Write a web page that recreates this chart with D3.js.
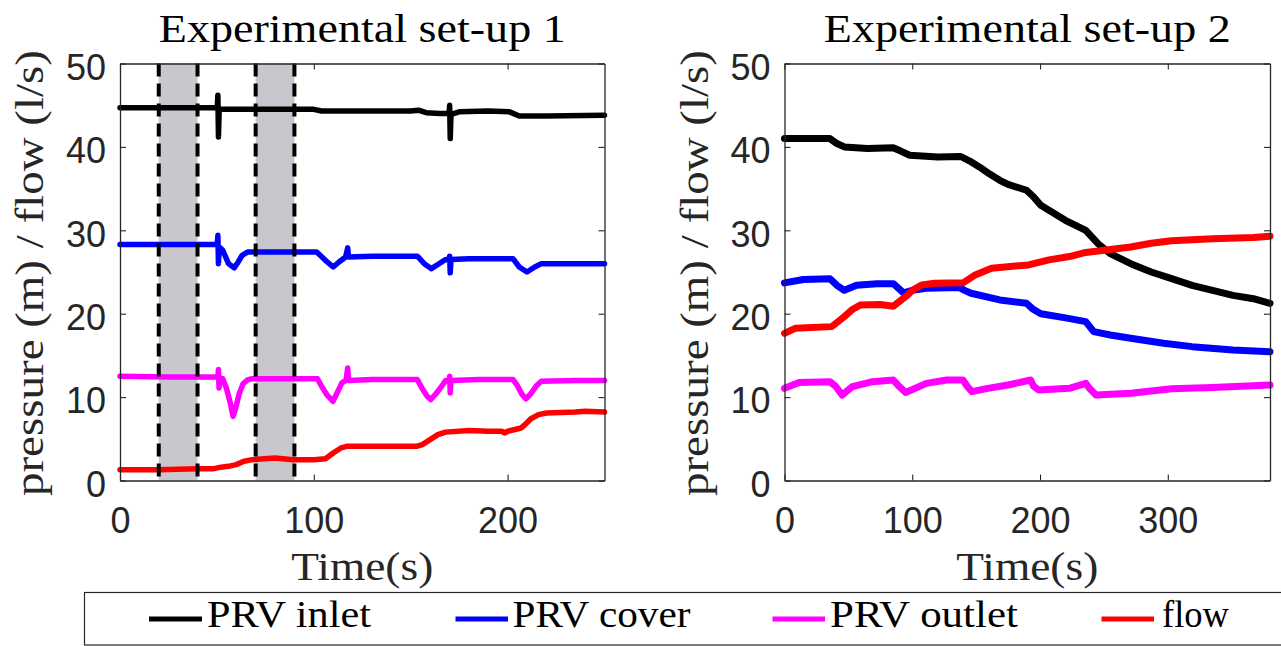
<!DOCTYPE html>
<html><head><meta charset="utf-8">
<script src="https://cdn.jsdelivr.net/npm/d3@7"></script>
<style>body{margin:0;background:#fff}svg{display:block}</style>
</head><body>
<svg id="c" width="1281" height="646"></svg>
<script>
// ---------- data ----------
const titles = ["Experimental set-up 1", "Experimental set-up 2"];
const xLabel = "Time(s)";
const yLabel = "pressure (m) / flow (l/s)";
const seriesNames = ["PRV inlet", "PRV cover", "PRV outlet", "flow"];
const seriesColors = ["#000000", "#0000ff", "#ff00ff", "#ff0000"];
const xDomain1 = [0, 250];
const xDomain2 = [0, 380];
const yDomain = [0, 50];
const xTicks1 = [0, 100, 200];
const xTicks2 = [0, 100, 200, 300];
const yTicks = [0, 10, 20, 30, 40, 50];
const bands1 = [[20, 40], [70, 90]];

const s1Inlet = [[0,44.7],[20,44.7],[40,44.7],[50.2,44.7],[50.5,46.2],[50.8,41.2],[51.2,44.6],[52,44.5],[75,44.5],[100,44.5],[104,44.3],[130,44.3],[150,44.3],[154,44.4],[158,44.1],[165,44.0],[169.8,44.0],[170.1,45.0],[170.4,41.0],[170.8,43.9],[175,44.2],[190,44.3],[201,44.2],[206,43.7],[220,43.7],[250,43.8]];
const s1Cover = [[0,28.3],[25,28.3],[50.2,28.3],[50.5,29.4],[50.8,26.0],[51.2,28.0],[53,27.6],[56,26.0],[58.9,25.5],[61,26.2],[63,27.0],[66,27.4],[80,27.4],[101.5,27.4],[106,26.4],[110,25.6],[113,26.2],[116.4,26.8],[117.5,27.9],[117.9,26.8],[130,26.9],[153.4,26.9],[157,26.0],[160.7,25.4],[164,25.9],[168,26.5],[169.8,26.4],[170.1,26.9],[170.4,24.9],[170.8,26.5],[180,26.6],[202.8,26.6],[206,25.6],[210,25.0],[214,25.6],[217.4,26.0],[235,26.0],[250,26.0]];
const s1Outlet = [[0,12.5],[25,12.4],[50.5,12.4],[50.8,13.3],[51.1,11.1],[51.5,12.3],[53,12.2],[55,11.0],[57,9.2],[58.3,7.7],[59.6,8.6],[61.5,10.4],[63.5,11.6],[66,12.1],[68.3,12.2],[85,12.2],[101.9,12.2],[104,11.3],[107,10.2],[109.9,9.5],[112,10.5],[114.5,11.7],[116.6,12.0],[117.5,13.5],[117.9,12.0],[130,12.1],[153.4,12.1],[156,11.0],[158.5,10.1],[160.3,9.7],[163,10.4],[166,11.3],[168.1,12.0],[169.9,12.0],[170.1,12.5],[170.4,10.5],[170.8,12.0],[185,12.1],[202.8,12.1],[205,11.4],[207.5,10.3],[209.5,9.8],[212,10.4],[215,11.4],[217.4,11.9],[235,12.0],[250,12.0]];
const s1Flow = [[0,1.3],[20,1.3],[40,1.4],[48,1.4],[52,1.6],[56,1.7],[59.9,1.9],[64,2.3],[68.3,2.5],[80,2.7],[89.3,2.5],[100,2.5],[106,2.6],[110,3.3],[114,3.9],[117,4.1],[135,4.1],[153,4.1],[156,4.3],[160,4.9],[164,5.5],[168,5.8],[180,6.0],[190,5.9],[197,5.9],[198.6,5.7],[200,5.9],[207,6.3],[209,6.7],[212,7.4],[216,7.9],[220,8.1],[235,8.2],[240,8.3],[250,8.2]];

const s2Inlet = [[0,41.0],[20,41.0],[35.6,41.0],[41,40.4],[46.8,40.0],[65,39.8],[85,39.9],[91,39.5],[98,39.0],[120,38.8],[138,38.85],[145,38.3],[152.5,37.6],[160,36.8],[168.5,36.0],[175,35.5],[189.4,34.8],[195,34.0],[200.6,33.0],[207,32.4],[219.8,31.2],[235.8,30.0],[245.4,28.4],[255,27.2],[271,26.0],[287,25.0],[303,24.2],[319,23.4],[335,22.8],[351,22.2],[367,21.8],[380,21.25]];
const s2Cover = [[0,23.7],[14.7,24.1],[35.6,24.2],[41,23.4],[46.8,22.8],[56.4,23.4],[72.4,23.6],[85.2,23.6],[93.2,22.5],[100,22.8],[111,23.05],[136.5,23.15],[141,22.8],[146,22.45],[168.5,21.65],[189.4,21.25],[194,20.6],[200.6,20.0],[220,19.5],[235.8,19.05],[242,17.85],[255,17.45],[271,17.05],[296.7,16.45],[319,16.05],[351,15.65],[380,15.45]];
const s2Outlet = [[0,11.05],[11.5,11.75],[35.6,11.85],[40,11.3],[45.2,10.25],[53,11.25],[69,11.85],[85.2,12.05],[89,11.4],[94.8,10.55],[111,11.65],[127,12.05],[139.7,12.05],[143,11.3],[146.7,10.65],[159,11.05],[175,11.45],[192.6,12.05],[195,11.3],[199,10.85],[223,11.05],[235.8,11.65],[239,11.0],[243.8,10.25],[271,10.45],[303,11.0],[335,11.15],[380,11.45]];
const s2Flow = [[0,17.65],[8.3,18.25],[37,18.45],[46.8,19.65],[53,20.5],[59.6,21.05],[75,21.1],[85.2,20.9],[94.8,22.05],[101,22.9],[107.6,23.45],[117.3,23.65],[139.7,23.7],[149.3,24.65],[162,25.45],[191,25.85],[207,26.45],[223,26.85],[235.8,27.35],[255,27.7],[271,28.0],[287,28.45],[303,28.75],[335,29.0],[367,29.15],[380,29.3]];

// ---------- drawing ----------
const svg = d3.select("#c");
const AX = "#262626";
const SERIF = '"Liberation Serif", "Times New Roman", serif';
const SANS = '"Liberation Sans", Arial, sans-serif';

const panels = [
  {x0:120, x1:604.5, dom:xDomain1, ticks:xTicks1, series:[s1Inlet,s1Cover,s1Outlet,s1Flow], bands:bands1, title:titles[0], lw:5.5},
  {x0:784.5, x1:1270, dom:xDomain2, ticks:xTicks2, series:[s2Inlet,s2Cover,s2Outlet,s2Flow], bands:[], title:titles[1], lw:7}
];
const yTop = 63.5, yBottom = 480.5;

panels.forEach(p => {
  const x = d3.scaleLinear().domain(p.dom).range([p.x0, p.x1]);
  const y = d3.scaleLinear().domain(yDomain).range([yBottom, yTop]);
  const g = svg.append("g");

  p.bands.forEach(b => {
    g.append("rect").attr("x", x(b[0])).attr("y", yTop)
      .attr("width", x(b[1]) - x(b[0])).attr("height", yBottom - yTop)
      .attr("fill", "#c9c7cd");
  });

  const line = d3.line().x(d => x(d[0])).y(d => y(d[1]));
  p.series.forEach((s, i) => {
    g.append("path").datum(s).attr("d", line)
      .attr("fill", "none").attr("stroke", seriesColors[i])
      .attr("stroke-width", p.lw).attr("stroke-linejoin", "round").attr("stroke-linecap", "round");
  });

  p.bands.forEach(b => {
    b.forEach(v => {
      g.append("line").attr("x1", x(v)).attr("x2", x(v)).attr("y1", yTop).attr("y2", yBottom)
        .attr("stroke", "#000").attr("stroke-width", 4).attr("stroke-dasharray", "13,7");
    });
  });

  const ax = svg.append("g");
  const xb = ax.append("g").attr("transform", `translate(0,${yBottom})`)
    .call(d3.axisBottom(x).tickValues(p.ticks).tickSizeInner(-6).tickSizeOuter(0).tickPadding(27));
  const xt = ax.append("g").attr("transform", `translate(0,${yTop})`)
    .call(d3.axisTop(x).tickValues(p.ticks).tickSizeInner(-6).tickSizeOuter(0).tickFormat(""));
  const yl = ax.append("g").attr("transform", `translate(${p.x0},0)`)
    .call(d3.axisLeft(y).tickValues(yTicks).tickSizeInner(-6).tickSizeOuter(0).tickPadding(14));
  const yr = ax.append("g").attr("transform", `translate(${p.x1},0)`)
    .call(d3.axisRight(y).tickValues(yTicks).tickSizeInner(-6).tickSizeOuter(0).tickFormat(""));
  [xb, xt, yl, yr].forEach(a => {
    a.selectAll("path.domain").attr("stroke", AX).attr("stroke-width", 1.3);
    a.selectAll(".tick line").attr("stroke", AX).attr("stroke-width", 1.1);
    a.selectAll(".tick text").attr("fill", AX).style("font-family", SANS).style("font-size", "36px");
  });
  yl.selectAll(".tick text").attr("dy", "0.44em");

  const cx = (p.x0 + p.x1) / 2;
  svg.append("text").attr("x", cx).attr("y", 42).attr("text-anchor", "middle")
    .style("font-family", SERIF).style("font-size", "41px").attr("fill", "#000")
    .attr("textLength", 407).attr("lengthAdjust", "spacingAndGlyphs").text(p.title);
  svg.append("text").attr("x", cx).attr("y", 580).attr("text-anchor", "middle")
    .style("font-family", SERIF).style("font-size", "41px").attr("fill", AX)
    .attr("textLength", 142).attr("lengthAdjust", "spacingAndGlyphs").text(xLabel);
  const ly = (yTop + yBottom) / 2 + 1;
  svg.append("text").attr("transform", `translate(${p.x0 - 77},${ly}) rotate(-90)`)
    .attr("text-anchor", "middle")
    .style("font-family", SERIF).style("font-size", "41px").attr("fill", AX)
    .attr("textLength", 446).attr("lengthAdjust", "spacingAndGlyphs").text(yLabel);
});

const lg = svg.append("g");
lg.append("rect").attr("x", 84.5).attr("y", 592.5).attr("width", 1220).attr("height", 52.5)
  .attr("fill", "#fff").attr("stroke", AX).attr("stroke-width", 1.2);
const legendItems = [
  {l0:149, l1:202, tx:207, tw:164},
  {l0:455.5, l1:508, tx:512.5, tw:178},
  {l0:772.5, l1:825, tx:830, tw:188},
  {l0:1101.5, l1:1154, tx:1162, tw:67}
];
legendItems.forEach((it, i) => {
  lg.append("line").attr("x1", it.l0).attr("x2", it.l1).attr("y1", 619).attr("y2", 619)
    .attr("stroke", seriesColors[i]).attr("stroke-width", 5);
  lg.append("text").attr("x", it.tx).attr("y", 627)
    .style("font-family", SERIF).style("font-size", "37px").attr("fill", "#000")
    .attr("textLength", it.tw).attr("lengthAdjust", "spacingAndGlyphs").text(seriesNames[i]);
});
</script>
</body></html>
